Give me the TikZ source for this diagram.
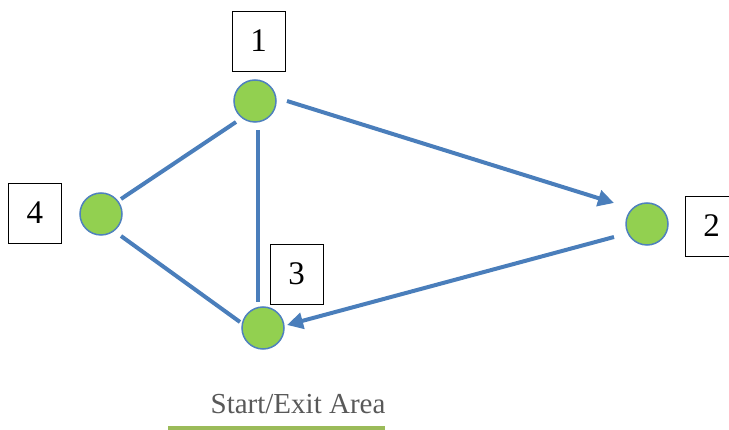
\documentclass[tikz,border=0pt]{standalone}
\usepackage{fontspec}
\setmainfont{Liberation Serif}
\usetikzlibrary{arrows.meta}
\definecolor{nodegreen}{HTML}{92D050}
\definecolor{nodeborder}{HTML}{4F81BD}
\definecolor{edgeblue}{HTML}{4A7EBB}
\definecolor{areagreen}{HTML}{9BBB59}
\definecolor{labelgray}{HTML}{595959}
\begin{document}
\begin{tikzpicture}[x=1pt,y=-1pt,
  vertex/.style={circle,fill=nodegreen,draw=nodeborder,line width=1.5pt,minimum size=42pt,inner sep=0pt},
  numbox/.style={draw=black,line width=0.8pt,fill=white,minimum width=53pt,minimum height=60pt,inner sep=0pt,font=\fontsize{33}{38}\selectfont},
  edge/.style={draw=edgeblue,line width=4pt},
  arr/.style={edge,-{Triangle[length=16pt,width=16pt]}}]
\useasboundingbox (0,0) rectangle (729,430);
\node[vertex] (n1) at (255,101) {};
\node[vertex] (n2) at (647,224) {};
\node[vertex] (n3) at (263,328) {};
\node[vertex] (n4) at (101,214) {};
\node[numbox] (b1) at (258.5,41) {1};
\node[numbox] (b2) at (711.5,226) {2};
\node[numbox] (b3) at (296.5,274) {3};
\node[numbox] (b4) at (35,213) {4};
\coordinate (a1) at (287,101);
\coordinate (a2) at (614,203);
\coordinate (c1) at (614,237);
\coordinate (c2) at (287,325);
\coordinate (d1) at (236,122);
\coordinate (d2) at (121,199);
\coordinate (e1) at (258,130);
\coordinate (e2) at (258,302);
\coordinate (f1) at (121,236);
\coordinate (f2) at (240,322);
\draw[arr] (a1) -- (a2);
\draw[arr] (c1) -- (c2);
\draw[edge] (d1) -- (d2);
\draw[edge] (e1) -- (e2);
\draw[edge] (f1) -- (f2);
\node[text=labelgray,font=\fontsize{29}{34}\selectfont] (lab) at (298,404) {Start/Exit Area};
\coordinate (g1) at (168,428);
\coordinate (g2) at (385,428);
\draw[draw=areagreen,line width=4pt] (g1) -- (g2);
\end{tikzpicture}
\end{document}
